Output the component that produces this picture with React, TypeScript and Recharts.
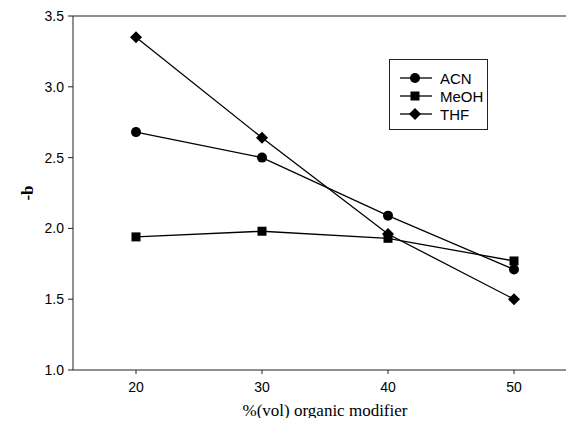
import { LineChart, Line, XAxis, YAxis, ReferenceLine } from "recharts";

const modifierPct = [20, 30, 40, 50];
const acnB = [2.68, 2.5, 2.09, 1.71];
const meohB = [1.94, 1.98, 1.93, 1.77];
const thfB = [3.35, 2.64, 1.96, 1.5];
const yTicks = [1.0, 1.5, 2.0, 2.5, 3.0, 3.5];
const xTicks = [20, 30, 40, 50];

const data = modifierPct.map((x, i) => ({ x, acn: acnB[i], meoh: meohB[i], thf: thfB[i] }));

const INK = "#000";
const AXIS = "#222";

const CircleDot = (p: any) => <circle key={p.key} cx={p.cx} cy={p.cy} r={5} fill={INK} />;
const SquareDot = (p: any) => (
  <rect key={p.key} x={p.cx - 4.5} y={p.cy - 4.5} width={9} height={9} fill={INK} />
);
const DiamondDot = (p: any) => (
  <polygon
    key={p.key}
    points={`${p.cx},${p.cy - 6} ${p.cx + 6},${p.cy} ${p.cx},${p.cy + 6} ${p.cx - 6},${p.cy}`}
    fill={INK}
  />
);

function LegendBox() {
  const items = [
    { name: "ACN", mark: <circle cx={16} cy={9} r={5} fill={INK} /> },
    { name: "MeOH", mark: <rect x={11.5} y={4.5} width={9} height={9} fill={INK} /> },
    { name: "THF", mark: <polygon points="16,3 22,9 16,15 10,9" fill={INK} /> },
  ];
  return (
    <div
      style={{
        position: "absolute",
        left: 389,
        top: 59,
        width: 99,
        height: 71,
        border: `1px solid ${AXIS}`,
        padding: "9px 0 0 9px",
        boxSizing: "border-box",
        background: "#fff",
      }}
    >
      {items.map((it) => (
        <div key={it.name} style={{ display: "flex", alignItems: "center", height: 18 }}>
          <svg width={34} height={18}>
            <line x1={1} y1={9} x2={33} y2={9} stroke={INK} strokeWidth={1.3} />
            {it.mark}
          </svg>
          <span
            style={{
              marginLeft: 7,
              fontFamily: "'Liberation Sans', Arial, sans-serif",
              fontSize: 15,
              color: INK,
            }}
          >
            {it.name}
          </span>
        </div>
      ))}
    </div>
  );
}

export default function App() {
  return (
    <div style={{ position: "relative", width: 574, height: 426, overflow: "hidden", margin: -8, background: "#fff" }}>
      <LineChart width={590} height={426} data={data} margin={{ top: 16, right: 13, left: 0, bottom: 0 }}>
        <XAxis
          dataKey="x"
          type="number"
          domain={[15, 55]}
          ticks={xTicks}
          height={56}
          stroke={AXIS}
          tickSize={4}
          tickMargin={8}
          tick={{ fill: INK, fontSize: 14, fontFamily: "'Liberation Sans', Arial, sans-serif" }}
          label={{
            value: "%(vol) organic modifier",
            position: "insideBottom",
            offset: 10,
            style: { fill: INK, fontSize: 17, fontFamily: "'Liberation Serif', 'Times New Roman', serif" },
          }}
        />
        <YAxis
          type="number"
          domain={[1, 3.5]}
          ticks={yTicks}
          width={73}
          stroke={AXIS}
          tickSize={5}
          tickMargin={4}
          tickFormatter={(v: number) => v.toFixed(1)}
          tick={{ fill: INK, fontSize: 14, fontFamily: "'Liberation Sans', Arial, sans-serif" }}
          label={{
            value: "-b",
            angle: -90,
            position: "insideLeft",
            offset: 27,
            style: {
              fill: INK,
              fontSize: 17,
              fontWeight: "bold",
              fontFamily: "'Liberation Serif', 'Times New Roman', serif",
              textAnchor: "middle",
            },
          }}
        />
        <ReferenceLine y={3.5} stroke={AXIS} strokeWidth={1} />
        <Line type="linear" dataKey="acn" stroke={INK} strokeWidth={1.3} dot={CircleDot} isAnimationActive={false} />
        <Line type="linear" dataKey="meoh" stroke={INK} strokeWidth={1.3} dot={SquareDot} isAnimationActive={false} />
        <Line type="linear" dataKey="thf" stroke={INK} strokeWidth={1.3} dot={DiamondDot} isAnimationActive={false} />
      </LineChart>
      <LegendBox />
    </div>
  );
}
